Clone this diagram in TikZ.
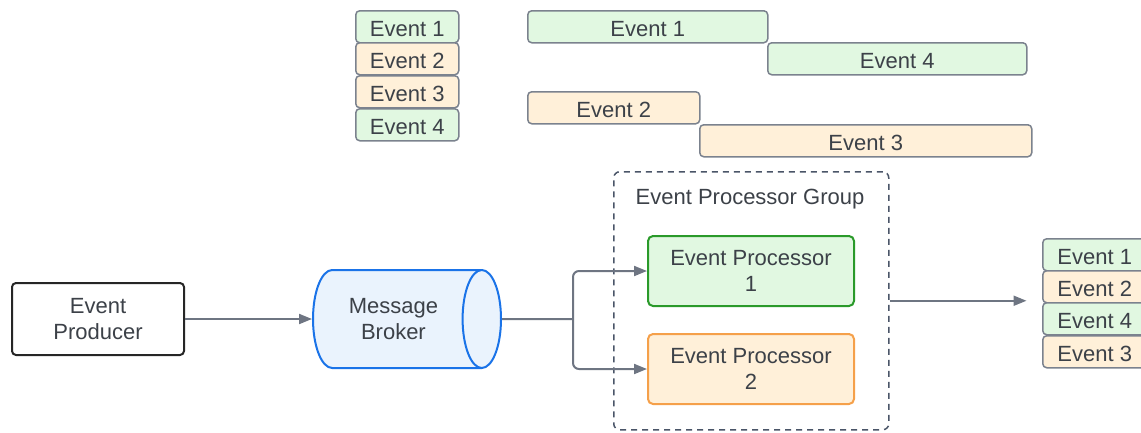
\documentclass[tikz,border=0pt]{standalone}
\usepackage{fontspec}
\setmainfont{Liberation Sans}
\usetikzlibrary{shapes.geometric,arrows.meta}
\definecolor{evgreen}{HTML}{E1F8E1}
\definecolor{evorange}{HTML}{FFF0D9}
\definecolor{evborder}{HTML}{7B828E}
\definecolor{txtgray}{HTML}{3C4148}
\definecolor{wire}{HTML}{6E7582}
\definecolor{brokerfill}{HTML}{EAF3FD}
\definecolor{brokerline}{HTML}{1A73E8}
\definecolor{procgreen}{HTML}{2A9A2A}
\definecolor{procorange}{HTML}{F5A04A}
\definecolor{groupline}{HTML}{4A5568}

\begin{document}
\begin{tikzpicture}[x=1pt,y=-1pt,
	font=\fontsize{22}{26}\selectfont, text=txtgray,
	ev/.style={draw=evborder, line width=1.5pt, rounded corners=4pt, minimum height=32pt, inner sep=0pt, text height=20pt, text depth=0pt, anchor=north west},
	evg/.style={ev, fill=evgreen},
	evo/.style={ev, fill=evorange},
	proc/.style={line width=2pt, rounded corners=5pt, minimum width=206pt, minimum height=70pt, align=center, anchor=north west},
	wire/.style={draw=wire, line width=2pt, -{Triangle[length=13pt,width=10pt]}}
]
		\useasboundingbox (0,0) rectangle (1141,432);
		\clip (0,0) rectangle (1141,432);

		\node[evg, minimum width=103pt] (q1) at (355,10) {Event 1};
		\node[evo, minimum width=103pt] (q2) at (355,42) {Event 2};
		\node[evo, minimum width=103pt] (q3) at (355,75) {Event 3};
		\node[evg, minimum width=103pt] (q4) at (355,108) {Event 4};

		\node[evg, minimum width=240pt] (t1) at (527,10) {Event 1};
		\node[evg, minimum width=259pt] (t4) at (767,42) {Event 4};
		\node[evo, minimum width=172pt] (t2) at (527,91) {Event 2};
		\node[evo, minimum width=332pt] (t3) at (699,124) {Event 3};

		\node[draw=black!85, fill=white, line width=2pt, rounded corners=4pt, minimum width=172pt, minimum height=72pt, align=center, anchor=west] (prod) at (11,319) {Event\\Producer};
		\node[cylinder, draw=brokerline, line width=2pt, cylinder uses custom fill, cylinder body fill=brokerfill, cylinder end fill=brokerfill, minimum width=98pt, minimum height=188pt, aspect=0.8, align=center, anchor=west, xshift=-3pt] (broker) at (315,319) {Message\\Broker};

		\node[draw=groupline, dash pattern=on 6pt off 5pt, line width=1.5pt, rounded corners=6pt, minimum width=275pt, minimum height=258pt, anchor=north west] (group) at (613,171) {};
		\node (grouplbl) at (750,199) {Event Processor Group};
		\node[proc, draw=procgreen, fill=evgreen] (p1) at (647,235) {Event Processor\\1};
		\node[proc, draw=procorange, fill=evorange] (p2) at (647,333) {Event Processor\\2};

		\node[evg, minimum width=104pt] (r1) at (1042,238) {Event 1};
		\node[evo, minimum width=104pt] (r2) at (1042,270) {Event 2};
		\node[evg, minimum width=104pt] (r4) at (1042,302) {Event 4};
		\node[evo, minimum width=104pt] (r3) at (1042,335) {Event 3};

		\coordinate (split) at (573,319);
		\coordinate (out) at ([xshift=137pt]group.east);

		\draw[wire] (prod) -- (broker);
		\draw[wire, -] (broker.east) -- (split);
		\draw[wire, rounded corners=6pt] (split) |- (p1);
		\draw[wire, rounded corners=6pt] (split) |- (p2);
		\draw[wire] (group.east) -- (out);
	\end{tikzpicture}
\end{document}
